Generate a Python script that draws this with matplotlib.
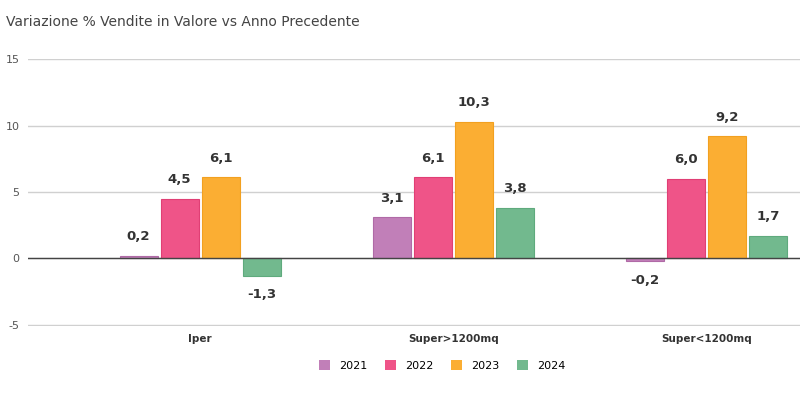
import matplotlib
matplotlib.use("Agg")
import matplotlib.pyplot as plt
import numpy as np

categories = ["Iper", "Super>1200mq", "Super<1200mq"]
years = ["2021", "2022", "2023", "2024"]
values = {
    "2021": [0.2, 3.1, -0.2],
    "2022": [4.5, 6.1, 6.0],
    "2023": [6.1, 10.3, 9.2],
    "2024": [-1.3, 3.8, 1.7],
}
colors = {
    "2021": "#C17FB8",
    "2022": "#EF5488",
    "2023": "#FBAE33",
    "2024": "#72B98E",
}
edges = {
    "2021": "#B06AA6",
    "2022": "#E03F75",
    "2023": "#F2A020",
    "2024": "#5FAA7D",
}
yticks = [-5, 0, 5, 10, 15]

fig = plt.figure(figsize=(8.0, 3.99), dpi=100)
ax = fig.add_axes([0.035, 0.183, 0.965, 0.669])

x = np.arange(len(categories))
width = 0.150
step = 0.162
for i, yr in enumerate(years):
    off = (i - 1.5) * step
    vals = values[yr]
    ax.bar(x + off, vals, width=width, color=colors[yr], edgecolor=edges[yr],
           linewidth=0.8, label=yr, zorder=3)
    for xi, v in zip(x + off, vals):
        label = f"{v:.1f}".replace(".", ",")
        if v >= 0:
            ax.annotate(label, (xi, v), xytext=(0, 9), textcoords="offset points",
                        ha="center", va="bottom", fontsize=9.5, fontweight="bold",
                        color="#333333")
        else:
            ax.annotate(label, (xi, v), xytext=(0, -9), textcoords="offset points",
                        ha="center", va="top", fontsize=9.5, fontweight="bold",
                        color="#333333")

ax.set_ylim(-5.08, 15)
ax.set_xlim(-0.68, 2.37)
ax.set_yticks(yticks)
ax.set_yticklabels([str(t) for t in yticks])
ax.set_xticks(x)
ax.set_xticklabels(categories, fontsize=7.5, fontweight="bold", color="#333333")
ax.tick_params(axis="y", length=0, labelsize=8, labelcolor="#555555", pad=6)
ax.tick_params(axis="x", length=0, pad=6)
ax.grid(axis="y", color="#D0D0D0", linewidth=1.0, zorder=0)
ax.axhline(0, color="#444444", linewidth=1.0, zorder=4)
for s in ax.spines.values():
    s.set_visible(False)

fig.text(0.008, 0.945, "Variazione % Vendite in Valore vs Anno Precedente",
         fontsize=10, color="#444444", ha="left", va="center")

leg = fig.legend(loc="center", bbox_to_anchor=(0.553, 0.083), ncol=4, frameon=False,
                 fontsize=8, handlelength=1.0, handleheight=1.0, columnspacing=1.6,
                 handletextpad=0.8)
for h in leg.legend_handles:
    h.set_linewidth(0)

fig.savefig("out.png", dpi=100)
